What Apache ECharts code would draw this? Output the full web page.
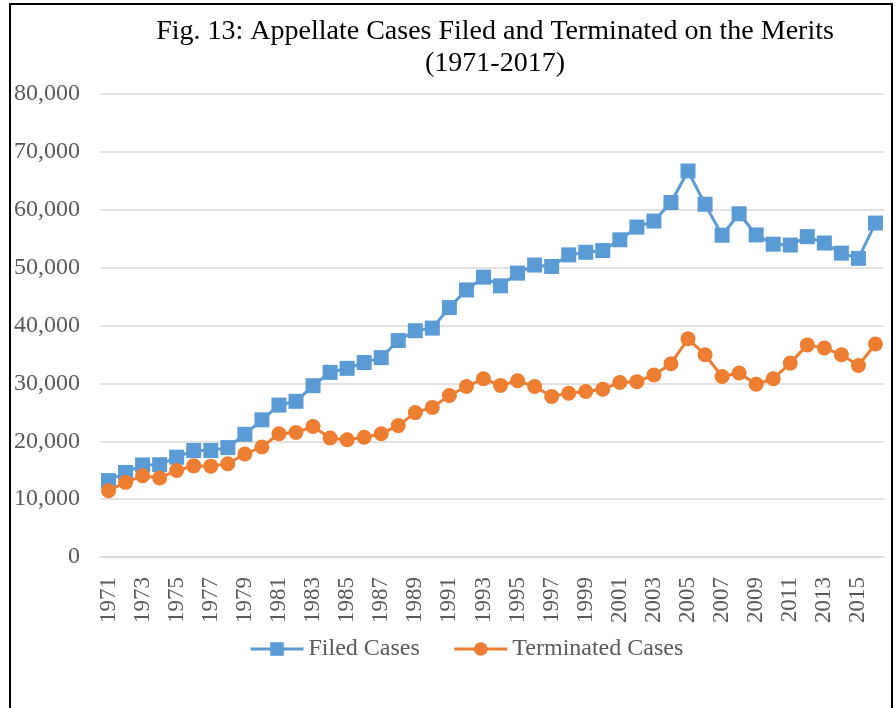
<!DOCTYPE html>
<html>
<head>
<meta charset="utf-8">
<script src="https://cdn.jsdelivr.net/npm/echarts@6/dist/echarts.min.js"></script>
<style>
  html, body { margin: 0; padding: 0; background: #fff; }
  #chart { width: 896px; height: 708px; }
</style>
</head>
<body>
<div id="chart"></div>
<script>
// Appellate cases filed vs terminated on the merits, 1971-2016

const years = [];
for (let y = 1971; y <= 2016; y++) years.push(String(y));

const filedCases = [
  13200, 14600, 15900, 15950, 17250, 18400, 18400, 18900, 21200, 23700,
  26250, 26900, 29600, 31900, 32600, 33600, 34450, 37400, 39100, 39550,
  43100, 46150, 48350, 46850, 49050, 50450, 50200, 52200, 52650, 52950,
  54800, 57000, 58050, 61250, 66700, 60950, 55600, 59300, 55650, 54050,
  53900, 55350, 54250, 52500, 51600, 57700
];

const terminatedCases = [
  11450, 12900, 14050, 13650, 14950, 15750, 15700, 16100, 17800, 19000,
  21300, 21500, 22550, 20550, 20250, 20700, 21300, 22700, 24950, 25850,
  27900, 29450, 30800, 29650, 30450, 29450, 27750, 28300, 28600, 29000,
  30150, 30300, 31450, 33400, 37700, 34950, 31200, 31800, 29850, 30800,
  33500, 36650, 36100, 34950, 33100, 36800
];

const chart = echarts.init(document.getElementById('chart'), null, { renderer: 'canvas' });
const FONT = '"Liberation Serif", "Times New Roman", serif';

chart.setOption({
  animation: false,
  textStyle: { fontFamily: FONT },
  title: {
    text: 'Fig. 13: Appellate Cases Filed and Terminated on the Merits\n(1971-2017)',
    left: 490,
    textAlign: 'center',
    top: 11,
    textStyle: { fontFamily: FONT, fontSize: 28, fontWeight: 'normal', color: '#000', lineHeight: 32 }
  },
  legend: {
    left: 244,
    top: 632,
    itemWidth: 53,
    itemHeight: 17,
    itemGap: 33,
    lineStyle: { width: 3 },
    textStyle: { fontFamily: FONT, fontSize: 24, color: '#595959' },
    data: ['Filed Cases', 'Terminated Cases']
  },
  grid: { left: 100, right: 12, top: 94, bottom: 151, containLabel: false },
  xAxis: {
    type: 'category',
    data: years,
    boundaryGap: true,
    axisLine: { lineStyle: { color: '#d9d9d9', width: 1.5 } },
    axisTick: { show: false },
    axisLabel: {
      interval: 1,
      rotate: 90,
      margin: 20,
      fontFamily: FONT,
      fontSize: 23,
      color: '#595959'
    }
  },
  yAxis: {
    type: 'value',
    min: 0,
    max: 80000,
    interval: 10000,
    axisLine: { show: false },
    axisTick: { show: false },
    splitLine: { lineStyle: { color: '#d9d9d9', width: 1.5 } },
    axisLabel: {
      margin: 20,
      fontFamily: FONT,
      fontSize: 24,
      color: '#595959',
      formatter: v => v.toLocaleString('en-US')
    }
  },
  series: [
    {
      name: 'Filed Cases',
      type: 'line',
      data: filedCases,
      symbol: 'rect',
      symbolSize: 15,
      showAllSymbol: true,
      lineStyle: { color: '#5B9BD5', width: 3 },
      itemStyle: { color: '#5B9BD5' },
      z: 3
    },
    {
      name: 'Terminated Cases',
      type: 'line',
      data: terminatedCases,
      symbol: 'circle',
      symbolSize: 15,
      showAllSymbol: true,
      lineStyle: { color: '#ED7D31', width: 3 },
      itemStyle: { color: '#ED7D31' },
      z: 4
    }
  ],
  graphic: [{
    type: 'rect',
    shape: { x: 10, y: 4, width: 882, height: 720 },
    style: { fill: 'none', stroke: '#000', lineWidth: 2 },
    silent: true
  }]
});
</script>
</body>
</html>
